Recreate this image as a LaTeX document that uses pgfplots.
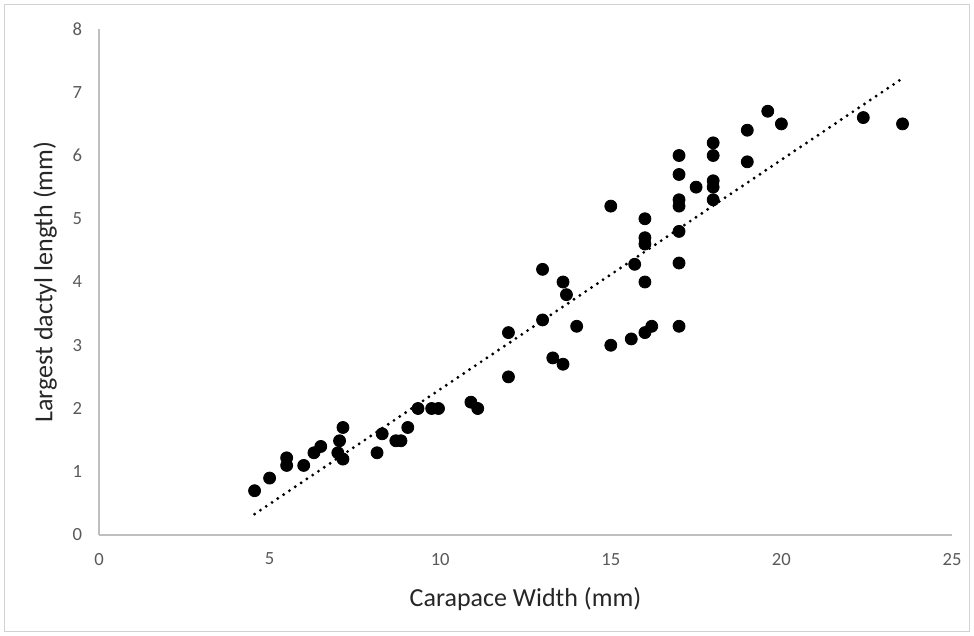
\documentclass[border=0pt]{standalone}
\usepackage{fontspec}
\setmainfont{Carlito}
\usepackage{pgfplots}
\pgfplotsset{compat=1.18}

\definecolor{axisgray}{HTML}{BFBFBF}
\definecolor{tickgray}{HTML}{595959}
\definecolor{labelgray}{HTML}{262626}

\begin{document}
\begin{tikzpicture}
\useasboundingbox (-49.5pt,-50.5pt) rectangle (437.5pt,267.5pt);
\draw[axisgray!70, line width=0.5pt] (-47pt,-48.5pt) rectangle (435pt,265pt);
\begin{axis}[
  scale only axis,
  width=426.5pt,
  height=253pt,
  xmin=0, xmax=25,
  ymin=0, ymax=8,
  xtick={0,5,...,25},
  ytick={0,1,...,8},
  axis x line*=bottom,
  axis y line*=left,
  axis line style={axisgray, line width=0.6pt, -},
  major tick length=0pt,
  /pgf/number format/assume math mode=true,
  tick label style={font=\fontsize{9.3}{11}\selectfont, text=tickgray},
  xticklabel style={yshift=-5.5pt},
  yticklabel style={xshift=-5pt},
  xlabel={Carapace Width (mm)},
  ylabel={Largest dactyl length (mm)},
  label style={font=\fontsize{13}{15}\selectfont, text=labelgray},
  xlabel style={at={(axis description cs:0.5,-0.1265)}, anchor=center},
  ylabel style={at={(axis description cs:-0.0633,0.5)}, anchor=center},
  clip=false,
]
% trendline (linear fit, dotted)
\addplot[black, line width=1.6pt, line cap=round, dash pattern=on 0pt off 3.5pt] coordinates {(4.56,0.33) (23.55,7.22)};
% data
\addplot[only marks, mark=*, mark size=3pt, mark options={fill=black, draw=black}] coordinates {
(4.56,0.70) (5.0,0.90) (5.5,1.22) (5.5,1.10) (6.0,1.10) (6.3,1.30) (6.5,1.40)
(7.0,1.30) (7.05,1.49) (7.15,1.70) (7.15,1.20)
(8.15,1.30) (8.3,1.60) (8.7,1.49) (8.85,1.49) (9.05,1.70)
(9.35,2.00) (9.75,2.00) (9.95,2.00) (10.9,2.10) (11.1,2.00)
(12.0,3.20) (12.0,2.50)
(13.0,4.20) (13.0,3.40) (13.3,2.80) (13.6,4.00) (13.6,2.70) (13.7,3.80) (14.0,3.30)
(15.0,5.20) (15.0,3.00) (15.6,3.10) (15.7,4.28) (16.0,5.00) (16.0,4.70) (16.0,4.60)
(16.0,4.00) (16.0,3.20) (16.2,3.30)
(17.0,6.00) (17.0,5.70) (17.0,5.30) (17.0,5.20) (17.0,4.80) (17.0,4.30) (17.0,3.30)
(17.5,5.50)
(18.0,6.20) (18.0,6.00) (18.0,5.60) (18.0,5.50) (18.0,5.30)
(19.0,6.40) (19.0,5.90) (19.6,6.70) (20.0,6.50)
(22.4,6.60) (23.55,6.50)
};
\end{axis}
\end{tikzpicture}
\end{document}
